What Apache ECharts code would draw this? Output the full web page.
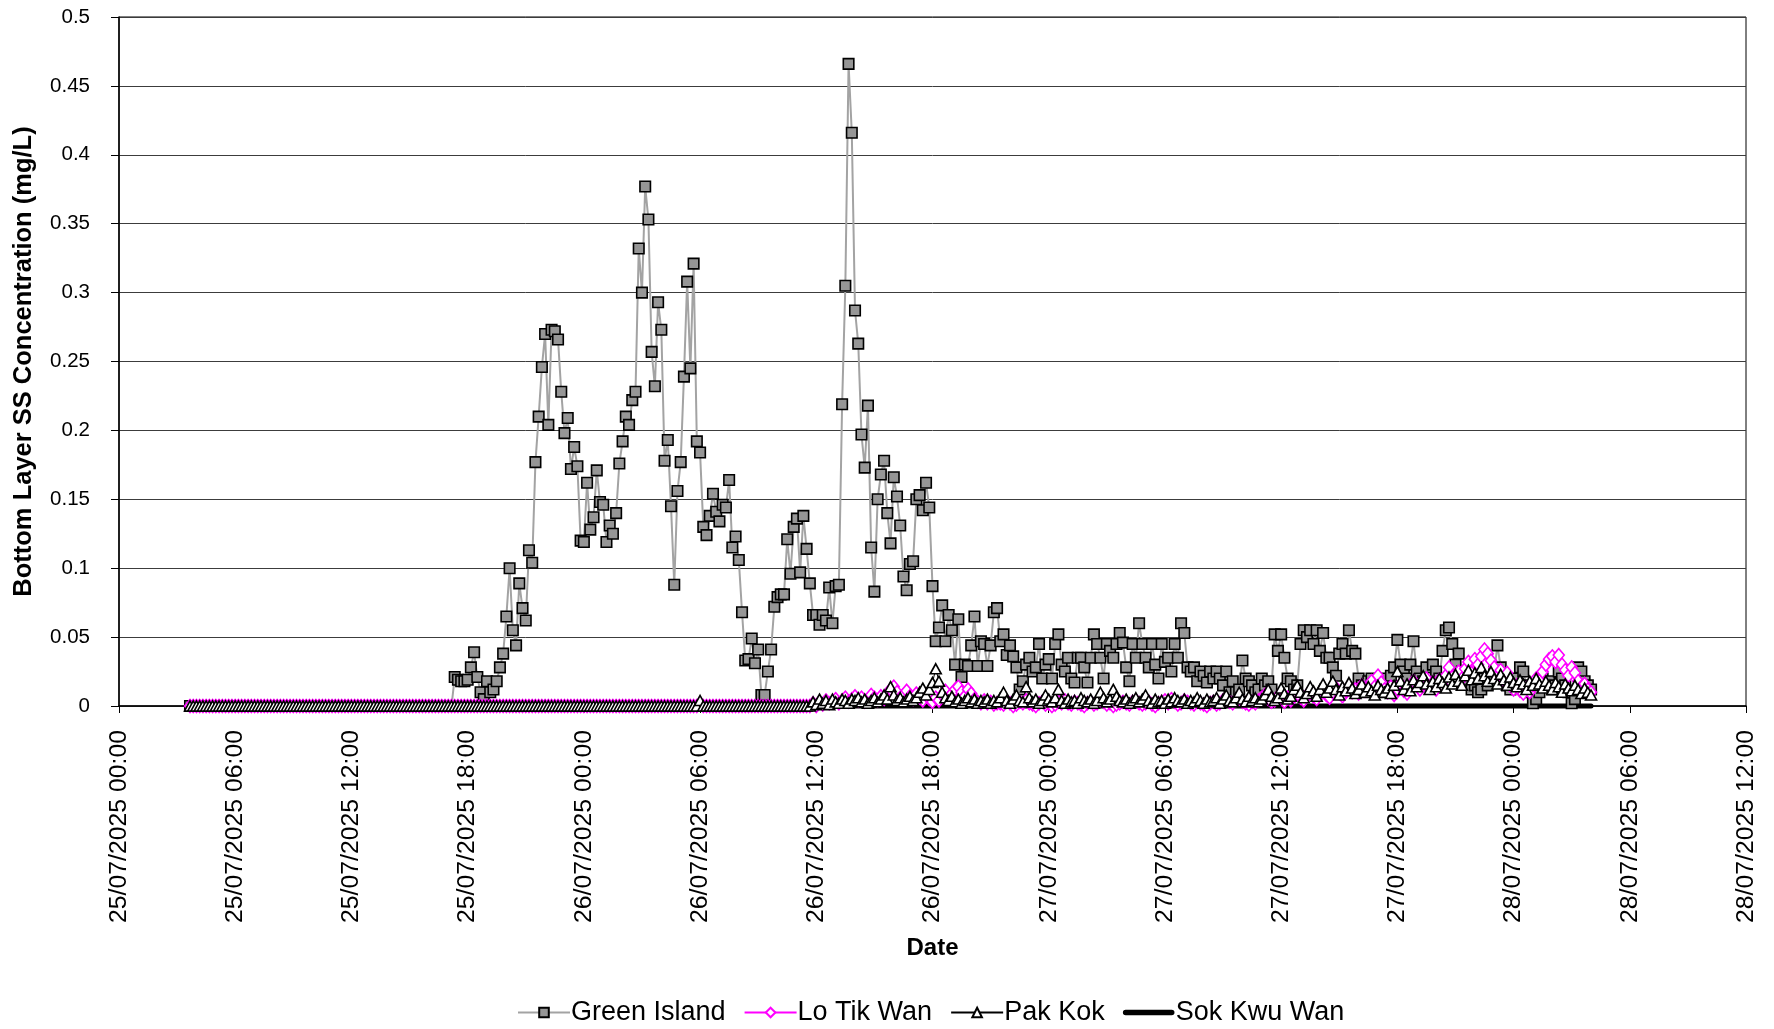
<!DOCTYPE html>
<html><head><meta charset="utf-8">
<script src="https://cdn.jsdelivr.net/npm/echarts@6/dist/echarts.min.js"></script>
<style>html,body{margin:0;padding:0;background:#fff}#c{width:1774px;height:1029px}</style>
</head><body><div id="c"></div>
<script>
// readings every 10 minutes, first reading 25/07/2025 03:40 (hours since 25/07/2025 00:00)
const startHour = 3 + 40 / 60;
const stepHour = 1 / 6;

const xTickLabels = ['25/07/2025 00:00','25/07/2025 06:00','25/07/2025 12:00','25/07/2025 18:00',
  '26/07/2025 00:00','26/07/2025 06:00','26/07/2025 12:00','26/07/2025 18:00',
  '27/07/2025 00:00','27/07/2025 06:00','27/07/2025 12:00','27/07/2025 18:00',
  '28/07/2025 00:00','28/07/2025 06:00','28/07/2025 12:00'];
const yTickLabels = ['0','0.05','0.1','0.15','0.2','0.25','0.3','0.35','0.4','0.45','0.5'];
const seriesNames = ['Green Island','Lo Tik Wan','Pak Kok','Sok Kwu Wan'];

const greenIsland = [
0,0,0,0,0,0,0,0,0,0,0,0,0,0,0,0,0,0,0,0,
0,0,0,0,0,0,0,0,0,0,0,0,0,0,0,0,0,0,0,0,
0,0,0,0,0,0,0,0,0,0,0,0,0,0,0,0,0,0,0,0,
0,0,0,0,0,0,0,0,0,0,0,0,0,0,0,0,0,0,0,0,
0,0,
.021,.019,.018,.018,.019,.028,.039,.021,.010,.005,.018,.010,.012,.018,.028,.038,.065,.100,.055,.044,.089,.071,.062,.113,.104,.177,.210,.246,
.270,.204,.273,.272,.266,.228,.198,.209,.172,.188,.174,.120,.119,.162,.128,.137,.171,.148,.146,.119,.131,.125,.140,.176,.192,.210,.204,.222,.228,.332,.300,.377,.353,.257,.232,.293,.273,
.178,.193,.145,.088,.156,.177,.239,.308,.245,.321,
.192,.184,.130,.124,.138,.154,.141,.134,.146,.144,.164,.115,.123,.106,.068,.033,.034,.049,.031,.041,.008,.008,.025,.041,
.072,.079,.081,.081,.121,.096,.130,.136,.097,.138,.114,.089,.066,.066,.059,.066,.062,.086,.060,.087,.088,
.219,.305,.466,.416,.287,.263,.197,.173,.218,.115,.083,.150,.168,.178,.140,.118,.166,.152,.131,.094,.084,.103,.105,.150,.153,.142,.162,.144,.087,
.047,.057,.073,.047,.066,.055,.030,.063,.021,.030,.029,.044,.065,.029,.047,.045,.029,.044,.068,.071,
.047,.052,.037,.044,.036,.028,.012,.018,.030,.035,.025,.028,.045,.020,.030,
.034,.020,.045,.052,.030,.025,.035,.020,.017,.035,
.035,.028,.017,.035,.052,.045,.035,.020,.045,.040,.035,.045,.053,.046,
.028,.018,.045,.035,.060,.045,.035,.028,.045,.030,.020,.045,.032,.035,
.025,.045,.035,.060,.053,.028,.025,.028,.018,.025,.022,.017,.025,.020,
.025,.020,.015,.025,.010,.018,.010,.012,.033,.020,.018,.015,.010,.012,.020,.015,.018,.012,
.052,.040,.052,.035,.020,.018,.012,.015,.045,.055,.050,.055,.045,.055,.040,.053,.035,
.035,.028,.022,.038,.045,.038,.055,.040,.038,.020,.015,.010,.018,.020,.015,.012,.010,
.020,.015,.022,.028,.048,.030,.025,.020,.030,.047,.025,.020,.018,.028,.015,.030,.025,.020,.040,.055,.057,
.045,.030,.038,.025,.020,.018,.012,.015,.010,.012,.020,.015,.018,.025,.044,.028,.020,
.015,.012,.018,.020,.028,.025,.015,.010,.002,.005,.010,.020,.015,.018,.012,.015,.025,.020,.015,.010,.002,.005,.028,.025,.018,.015,.012
];

const loTikWan = [
0,0,0,0,0,0,0,0,0,0,0,0,0,0,0,0,0,0,0,0,
0,0,0,0,0,0,0,0,0,0,0,0,0,0,0,0,0,0,0,0,
0,0,0,0,0,0,0,0,0,0,0,0,0,0,0,0,0,0,0,0,
0,0,0,0,0,0,0,0,0,0,0,0,0,0,0,0,0,0,0,0,
0,0,0,0,0,0,0,0,0,0,0,0,0,0,0,0,0,0,0,0,
0,0,0,0,0,0,0,0,0,0,0,0,0,0,0,0,0,0,0,0,
0,0,0,0,0,0,0,0,0,0,0,0,0,0,0,0,0,0,0,0,
0,0,0,0,0,0,0,0,0,0,0,0,0,0,0,0,0,0,.002,0,
0,0,0,0,0,0,0,0,0,0,0,0,0,0,0,0,0,0,0,0,
0,0,0,0,0,0,0,0,0,0,0,0,0,
.002,0,.003,.001,.004,.002,.003,.005,.002,.004,.006,
.003,.005,.007,.004,.006,.003,.005,.008,.006,.004,.007,.005,
.009,.012,.014,.010,.006,.008,.011,.007,.005,.009,.006,.004,.008,.005,.003,
.006,.004,.008,.011,.006,.009,.012,.014,.010,.007,.012,.009,.005,.003,.002,.004,.002,.003,.001,.002,
.002,.001,.003,.002,0,.001,.003,.002,.004,.002,
.001,0,.002,.003,.001,.002,0,.001,.003,.002,
.004,.002,.001,.003,.002,.001,0,.002,.003,.001,
.002,.004,.003,.001,.002,0,.001,.002,.003,.002,
.001,.003,.004,.002,.001,.002,.003,.001,0,.002,
.003,.004,.002,.005,.003,.001,.002,.004,.003,.002,
.001,.003,.002,.001,0,.002,.003,.001,.002,.004,
.005,.003,.002,.004,.006,.003,.002,.001,.003,.002,
.004,.006,.008,.005,.003,.004,.007,.005,.003,.006,
.004,.007,.009,.006,.004,.008,.010,.007,.005,.009,
.012,.008,.006,.010,.013,.009,.007,.011,.014,.010,
.012,.009,.015,.011,.013,.018,.014,.022,.017,.012,
.010,.014,.008,.012,.016,.011,.009,.013,.018,.015,
.012,.016,.020,.014,.017,.012,.019,.015,.022,.028,
.021,.018,.025,.020,.027,.032,.024,.034,.030,.036,
.041,.038,.033,.028,.022,.026,.019,.024,.016,.012,
.015,.011,.009,.013,.010,.015,.020,.018,.025,.030,
.034,.036,.032,.037,.030,.026,.022,.028,.024,.018,
.014,.016,.012,.010
];

const pakKok = [
0,0,0,0,0,0,0,0,0,0,0,0,0,0,0,0,0,0,0,0,
0,0,0,0,0,0,0,0,0,0,0,0,0,0,0,0,0,0,0,0,
0,0,0,0,0,0,0,0,0,0,0,0,0,0,0,0,0,0,0,0,
0,0,0,0,0,0,0,0,0,0,0,0,0,0,0,0,0,0,0,0,
0,0,0,0,0,0,0,0,0,0,0,0,0,0,0,0,0,0,0,0,
0,0,0,0,0,0,0,0,0,0,0,0,0,0,0,0,0,0,0,0,
0,0,0,0,0,0,0,0,0,0,0,0,0,0,0,0,0,0,0,0,
0,0,0,0,0,0,0,0,0,0,0,0,0,0,0,0,0,0,.004,0,
0,0,0,0,0,0,0,0,0,0,0,0,0,0,0,0,0,0,0,0,
0,0,0,0,0,0,0,0,0,0,0,0,0,
.003,.001,.005,.002,.004,.001,.005,.003,.002,.005,.004,
.002,.005,.004,.006,.003,.005,.002,.004,.006,.003,.005,.008,
.005,.014,.008,.004,.006,.003,.005,.007,.004,.006,.010,.013,.008,.012,.017,
.027,.018,.010,.006,.004,.007,.003,.005,.002,.004,.006,.003,.005,.002,.004,.003,.005,.002,.004,.003,
.006,.010,.004,.002,.005,.008,.004,.003,.014,.006,
.003,.005,.002,.004,.008,.005,.003,.006,.012,.004,
.002,.005,.003,.004,.002,.006,.004,.003,.005,.002,
.004,.010,.006,.003,.005,.012,.007,.004,.003,.005,
.002,.004,.006,.003,.005,.008,.004,.002,.005,.003,
.004,.002,.005,.003,.006,.004,.003,.005,.002,.004,
.003,.006,.004,.002,.005,.003,.004,.006,.002,.005,
.008,.004,.003,.006,.010,.005,.003,.007,.004,.006,
.003,.005,.008,.012,.007,.004,.006,.013,.009,.005,
.007,.012,.015,.010,.006,.009,.014,.011,.007,.012,
.016,.010,.013,.018,.012,.008,.014,.011,.017,.013,
.009,.012,.016,.010,.014,.011,.008,.015,.012,.010,
.013,.009,.015,.025,.018,.012,.016,.011,.019,.014,
.017,.022,.016,.012,.018,.014,.020,.017,.013,.021,
.016,.023,.018,.015,.022,.026,.019,.024,.020,.028,
.022,.018,.025,.020,.016,.023,.019,.015,.021,.017,
.014,.019,.016,.012,.018,.015,.020,.016,.013,.018,
.015,.012,.017,.014,.010,.016,.013,.011,.015,.012,
.009,.013,.010,.008
];

const sokKwuWan = [
0,0,0,0,0,0,0,0,0,0,0,0,0,0,0,0,0,0,0,0,
0,0,0,0,0,0,0,0,0,0,0,0,0,0,0,0,0,0,0,0,
0,0,0,0,0,0,0,0,0,0,0,0,0,0,0,0,0,0,0,0,
0,0,0,0,0,0,0,0,0,0,0,0,0,0,0,0,0,0,0,0,
0,0,0,0,0,0,0,0,0,0,0,0,0,0,0,0,0,0,0,0,
0,0,0,0,0,0,0,0,0,0,0,0,0,0,0,0,0,0,0,0,
0,0,0,0,0,0,0,0,0,0,0,0,0,0,0,0,0,0,0,0,
0,0,0,0,0,0,0,0,0,0,0,0,0,0,0,0,0,0,0,0,
0,0,0,0,0,0,0,0,0,0,0,0,0,0,0,0,0,0,0,0,
0,0,0,0,0,0,0,0,0,0,0,0,0,0,0,0,0,0,0,0,
0,0,0,0,0,0,0,0,0,0,0,0,0,0,0,0,0,0,0,0,
0,0,0,0,0,0,0,0,0,0,0,0,0,0,0,0,0,0,0,0,
0,0,0,0,0,0,0,0,0,0,0,0,0,0,0,0,0,0,0,0,
0,0,0,0,0,0,0,0,0,0,0,0,0,0,0,0,0,0,0,0,
0,0,0,0,0,0,0,0,0,0,0,0,0,0,0,0,0,0,0,0,
0,0,0,0,0,0,0,0,0,0,0,0,0,0,0,0,0,0,0,0,
0,0,0,0,0,0,0,0,0,0,0,0,0,0,0,0,0,0,0,0,
0,0,0,0,0,0,0,0,0,0,0,0,0,0,0,0,0,0,0,0,
0,0,0,0,0,0,0,0,0,0,0,0,0,0,0,0,0,0,0,0,
0,0,0,0,0,0,0,0,0,0,0,0,0,0,0,0,0,0,0,0,
0,0,0,0,0,0,0,0,0,0,0,0,0,0,0,0,0,0,0,0,
0,0,0,0,0,0,0,0,0,0,0,0,0,0,0
];

const toPairs = arr => arr.map((v, i) => [startHour + i * stepHour, v]);
const FONT = '"Liberation Sans", Arial, sans-serif';

const chart = echarts.init(document.getElementById('c'), null, {renderer: 'canvas'});
chart.setOption({
  animation: false,
  backgroundColor: '#fff',
  textStyle: {fontFamily: FONT, color: '#000'},
  grid: {left: 119, right: 28, top: 17, bottom: 323, show: true, borderColor: '#000', borderWidth: 1, backgroundColor: 'transparent'},
  legend: {
    top: 994, left: 512, itemWidth: 52, itemHeight: 12, itemGap: 18,
    textStyle: {fontSize: 27, color: '#000', fontFamily: FONT, padding: [0, 0, 0, -4]},
    data: [
      {name: seriesNames[0]},
      {name: seriesNames[1]},
      {name: seriesNames[2]},
      {name: seriesNames[3], icon: 'path://M0,0 M52,12 M3,3.2 L49,3.2 A2.8,2.8 0 0 1 49,8.8 L3,8.8 A2.8,2.8 0 0 1 3,3.2 Z', itemStyle: {color: '#000'}}
    ]
  },
  xAxis: {
    type: 'value', min: 0, max: 84, interval: 6,
    name: 'Date', nameLocation: 'middle', nameGap: 230,
    nameTextStyle: {fontSize: 24, fontWeight: 'bold', color: '#000', fontFamily: FONT},
    axisLine: {show: true, onZero: false, lineStyle: {color: '#000', width: 1.5}},
    axisTick: {show: true, length: 7, lineStyle: {color: '#000', width: 1}},
    splitLine: {show: false},
    axisLabel: {rotate: 90, margin: 24, fontSize: 24.8, color: '#000', fontFamily: FONT,
      formatter: v => xTickLabels[Math.round(v / 6)] || ''}
  },
  yAxis: {
    type: 'value', min: 0, max: 0.5, interval: 0.05,
    name: 'Bottom Layer SS Concentration (mg/L)', nameLocation: 'middle', nameGap: 82,
    nameTextStyle: {fontSize: 25.5, fontWeight: 'bold', color: '#000', fontFamily: FONT},
    axisLine: {show: true, lineStyle: {color: '#000', width: 1.5}},
    axisTick: {show: true, length: 8, lineStyle: {color: '#000', width: 1}},
    splitLine: {show: true, lineStyle: {color: '#3c3c3c', width: 1}},
    axisLabel: {fontSize: 20.5, margin: 29, color: '#000', fontFamily: FONT,
      formatter: v => yTickLabels[Math.round(v / 0.05)]}
  },
  series: [
    {
      name: seriesNames[0], type: 'line', data: toPairs(greenIsland),
      symbol: 'rect', symbolSize: 10.5, showAllSymbol: true,
      lineStyle: {color: '#a3a3a3', width: 2},
      itemStyle: {color: '#969696', borderColor: '#000', borderWidth: 1.6}
    },
    {
      name: seriesNames[1], type: 'line', data: toPairs(loTikWan),
      symbol: 'diamond', symbolSize: [11, 13], showAllSymbol: true,
      lineStyle: {color: '#ff00ff', width: 1.6},
      itemStyle: {color: '#ffffff', borderColor: '#ff00ff', borderWidth: 1.6}
    },
    {
      name: seriesNames[2], type: 'line', data: toPairs(pakKok),
      symbol: 'triangle', symbolSize: [11, 10], showAllSymbol: true,
      lineStyle: {color: '#000', width: 1},
      itemStyle: {color: '#ffffff', borderColor: '#000', borderWidth: 1.6}
    },
    {
      name: seriesNames[3], type: 'line', data: toPairs(sokKwuWan),
      symbol: 'none', clip: false, z: 3,
      lineStyle: {color: '#000', width: 5, cap: 'round'},
      itemStyle: {color: '#000'}
    }
  ]
});
</script></body></html>
